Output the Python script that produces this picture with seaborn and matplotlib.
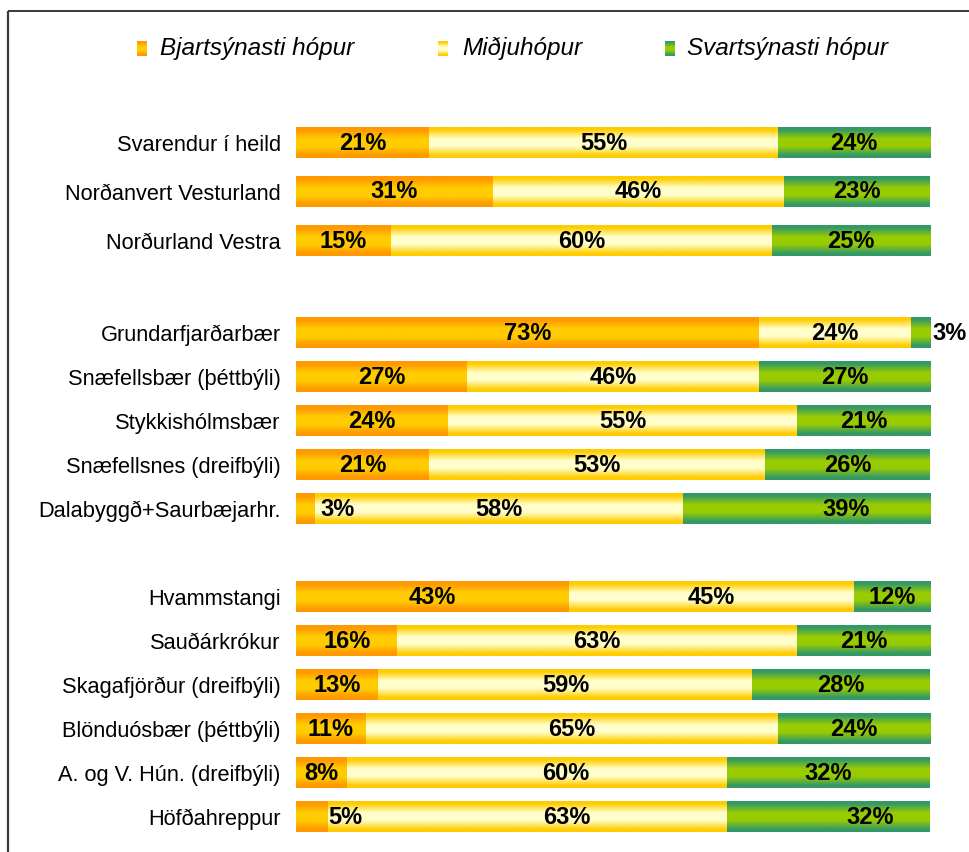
import numpy as np
import pandas as pd
import matplotlib
matplotlib.use("Agg")
import matplotlib.pyplot as plt
from matplotlib.colors import LinearSegmentedColormap
import seaborn as sns

# ---------------- data ----------------
rows = ["Svarendur í heild", "Norðanvert Vesturland", "Norðurland Vestra",
        "Grundarfjarðarbær", "Snæfellsbær (þéttbýli)", "Stykkishólmsbær",
        "Snæfellsnes (dreifbýli)", "Dalabyggð+Saurbæjarhr.",
        "Hvammstangi", "Sauðárkrókur", "Skagafjörður (dreifbýli)",
        "Blönduósbær (þéttbýli)", "A. og V. Hún. (dreifbýli)", "Höfðahreppur"]
bjart = [21, 31, 15, 73, 27, 24, 21, 3, 43, 16, 13, 11, 8, 5]
midju = [55, 46, 60, 24, 46, 55, 53, 58, 45, 63, 59, 65, 60, 63]
svart = [24, 23, 25, 3, 27, 21, 26, 39, 12, 21, 28, 24, 32, 32]
series_names = ["Bjartsýnasti hópur", "Miðjuhópur", "Svartsýnasti hópur"]

# ---------------- layout (pixel coordinates) ----------------
W, H = 969, 852
row_y = [143, 192, 241, 333, 377, 421, 465, 509, 597, 641, 685, 729, 773, 817]
bar_h = 31
label_dx = {(3, 2): 29, (7, 0): 32, (7, 2): 40, (12, 1): 29,
            (13, 0): 33, (13, 1): 39, (13, 2): 42}

sns.set_theme(style="white")
plt.rcParams["font.family"] = ["Liberation Sans", "DejaVu Sans"]

stops = {
    0: [(0, "#FF9900"), (0.1, "#FF9900"), (0.38, "#FFCC00"), (0.65, "#FFCC00"),
        (0.9, "#FF9900"), (1, "#FF9900")],
    1: [(0, "#FFCC00"), (0.08, "#FFCC00"), (0.38, "#FFFFCC"), (0.62, "#FFFFCC"),
        (0.92, "#FFCC00"), (1, "#FFCC00")],
    2: [(0, "#339966"), (0.08, "#339966"), (0.38, "#99CC00"), (0.62, "#99CC00"),
        (0.92, "#339966"), (1, "#339966")],
}
base_colors = {0: "#FFCC00", 1: "#FFFFCC", 2: "#99CC00"}
cmaps = {k: LinearSegmentedColormap.from_list(f"g{k}", v) for k, v in stops.items()}
grad = np.linspace(0, 1, 128).reshape(-1, 1)

fig = plt.figure(figsize=(W / 100, H / 100), dpi=100)
fig.patch.set_facecolor("white")
ax = fig.add_axes([296 / W, 0, 634 / W, 1])
ax.set_facecolor("none")

df = pd.DataFrame({"row": rows, "pos": row_y, "b": bjart, "m": midju, "s": svart})
df["bm"] = df["b"] + df["m"]
df["total"] = df["bm"] + df["s"]

min_gap = np.min(np.diff(sorted(row_y)))
layers = [("total", 2), ("bm", 1), ("b", 0)]
for col, k in layers:
    sns.barplot(data=df, x=col, y="pos", orient="h", native_scale=True,
                width=bar_h / min_gap, color=base_colors[k], errorbar=None,
                ax=ax, linewidth=0)

n = len(rows)
patches = list(ax.patches)
layer_patches = {k: patches[i * n:(i + 1) * n] for i, (_, k) in enumerate(layers)}
lefts = {2: df["bm"].values, 1: df["b"].values, 0: np.zeros(n)}
for k, plist in layer_patches.items():
    for i, p in enumerate(plist):
        y0 = p.get_y()
        h = p.get_height()
        x1 = p.get_x() + p.get_width()
        x0 = lefts[k][i]
        p.set_visible(False)
        if x1 - x0 <= 0:
            continue
        ax.imshow(grad, cmap=cmaps[k], extent=[x0, x1, y0 + h, y0],
                  aspect="auto", interpolation="bilinear", origin="upper",
                  zorder=2 + k)

# value labels
vals = [bjart, midju, svart]
starts = [np.zeros(n), np.array(bjart), np.array(bjart) + np.array(midju)]
px = 100 / 634
for i in range(n):
    for k in range(3):
        v = vals[k][i]
        cx = starts[k][i] + v / 2 + label_dx.get((i, k), 0) * px
        ax.text(cx, row_y[i], f"{v}%", ha="center", va="center",
                fontsize=17, fontweight="bold", color="black", zorder=10,
                clip_on=False)

ax.set_xlim(0, 100)
ax.set_ylim(H, 0)
ax.set_yticks(row_y)
ax.set_yticklabels(rows, fontsize=15.7, color="black")
ax.set_xticks([])
ax.tick_params(axis="y", length=0, pad=11)
ax.set_xlabel("")
ax.set_ylabel("")
for s in ax.spines.values():
    s.set_visible(False)

# overlay for legend and frame
ov = fig.add_axes([0, 0, 1, 1])
ov.set_facecolor("none")
ov.set_xlim(0, W)
ov.set_ylim(H, 0)
ov.axis("off")
ov.plot([8, 8], [H, 11], color="#3a3a3a", lw=1.6, solid_capstyle="butt")
ov.plot([8, W], [11, 11], color="#3a3a3a", lw=1.4, solid_capstyle="butt")

leg_marker_x = [137, 438, 665]
leg_text_x = [160, 462, 687]
leg_y = 48
for k in range(3):
    mx = leg_marker_x[k]
    ov.imshow(grad, cmap=cmaps[k], extent=[mx, mx + 10, leg_y + 8, leg_y - 7],
              aspect="auto", interpolation="bilinear", origin="upper")
    ov.text(leg_text_x[k], leg_y + 1, series_names[k], ha="left", va="center",
            fontsize=17.5, fontstyle="italic", color="black")
ov.set_xlim(0, W)
ov.set_ylim(H, 0)

fig.savefig("out.png", dpi=100)
